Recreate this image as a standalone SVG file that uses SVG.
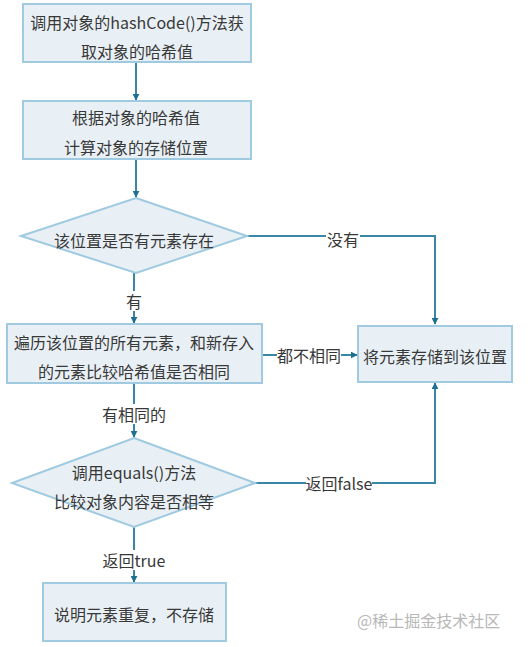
<svg xmlns="http://www.w3.org/2000/svg" width="532" height="647" viewBox="0 0 532 647">
<style>
.box{fill:#e8f0f6;stroke:#9fcae0;stroke-width:2}
.t{font-family:"Noto Sans CJK SC","Liberation Sans",sans-serif;font-size:16px;fill:#383838;text-anchor:middle;dominant-baseline:central}
.lbl{font-family:"Noto Sans CJK SC","Liberation Sans",sans-serif;font-size:16px;fill:#383838;text-anchor:middle;dominant-baseline:central}
.c{fill:none;stroke:#3a86a6;stroke-width:2}
.bg{fill:#ffffff}
.wm{font-family:"Noto Sans CJK SC","Liberation Sans",sans-serif;font-size:16px;fill:#b8b8b8;dominant-baseline:central}
</style>
<defs>
<marker id="ah" viewBox="0 0 10 10" refX="9" refY="5" markerWidth="7" markerHeight="7" orient="auto-start-reverse" markerUnits="userSpaceOnUse">
<path d="M0,0 L10,5 L0,10 z" fill="#1f6f90"/>
</marker>
</defs>
<rect width="532" height="647" fill="#ffffff"/>
<g id="connectors">
<path class="c" d="M136,62 V100" marker-end="url(#ah)"/>
<path class="c" d="M136,159 V197" marker-end="url(#ah)"/>
<path class="c" d="M247,236 H435 V324" marker-end="url(#ah)"/>
<path class="c" d="M134,273 V323" marker-end="url(#ah)"/>
<path class="c" d="M262,355 H357" marker-end="url(#ah)"/>
<path class="c" d="M134,383 V437" marker-end="url(#ah)"/>
<path class="c" d="M255,483 H435 V383" marker-end="url(#ah)"/>
<path class="c" d="M134,527 V582" marker-end="url(#ah)"/>
<rect class="bg" x="326" y="228" width="34" height="20"/>
<text class="lbl" x="343" y="239">没有</text>
<rect class="bg" x="124" y="291" width="20" height="20"/>
<text class="lbl" x="134" y="301">有</text>
<rect class="bg" x="277" y="345" width="64" height="20"/>
<text class="lbl" x="309" y="355">都不相同</text>
<rect class="bg" x="102" y="404" width="64" height="20"/>
<text class="lbl" x="134" y="414">有相同的</text>
<rect class="bg" x="306" y="473" width="66" height="20"/>
<text class="lbl" x="339" y="483">返回false</text>
<rect class="bg" x="102" y="550" width="64" height="20"/>
<text class="lbl" x="134" y="560">返回true</text>
</g>
<g id="n1">
<rect class="box" x="23" y="4" width="228" height="58"/>
<text class="t" x="137" y="22">调用对象的hashCode()方法获</text>
<text class="t" x="137" y="51">取对象的哈希值</text>
</g>
<g id="n2">
<rect class="box" x="23" y="101" width="228" height="58"/>
<text class="t" x="136" y="117">根据对象的哈希值</text>
<text class="t" x="136" y="147">计算对象的存储位置</text>
</g>
<g id="n3">
<polygon class="box" points="136,198 247,236 136,273 21,236"/>
<text class="t" x="134" y="240">该位置是否有元素存在</text>
</g>
<g id="n4">
<rect class="box" x="7" y="324" width="255" height="59"/>
<text class="t" x="134" y="342">遍历该位置的所有元素，和新存入</text>
<text class="t" x="134" y="371">的元素比较哈希值是否相同</text>
</g>
<g id="n5">
<rect class="box" x="358" y="326" width="154" height="56"/>
<text class="t" x="435" y="356">将元素存储到该位置</text>
</g>
<g id="n6">
<polygon class="box" points="134,438 255,483 134,527 12,483"/>
<text class="t" x="134" y="472">调用equals()方法</text>
<text class="t" x="134" y="501">比较对象内容是否相等</text>
</g>
<g id="n7">
<rect class="box" x="43" y="583" width="183" height="58"/>
<text class="t" x="134" y="614">说明元素重复，不存储</text>
</g>
<text class="wm" x="357" y="620">@稀土掘金技术社区</text>
</svg>
